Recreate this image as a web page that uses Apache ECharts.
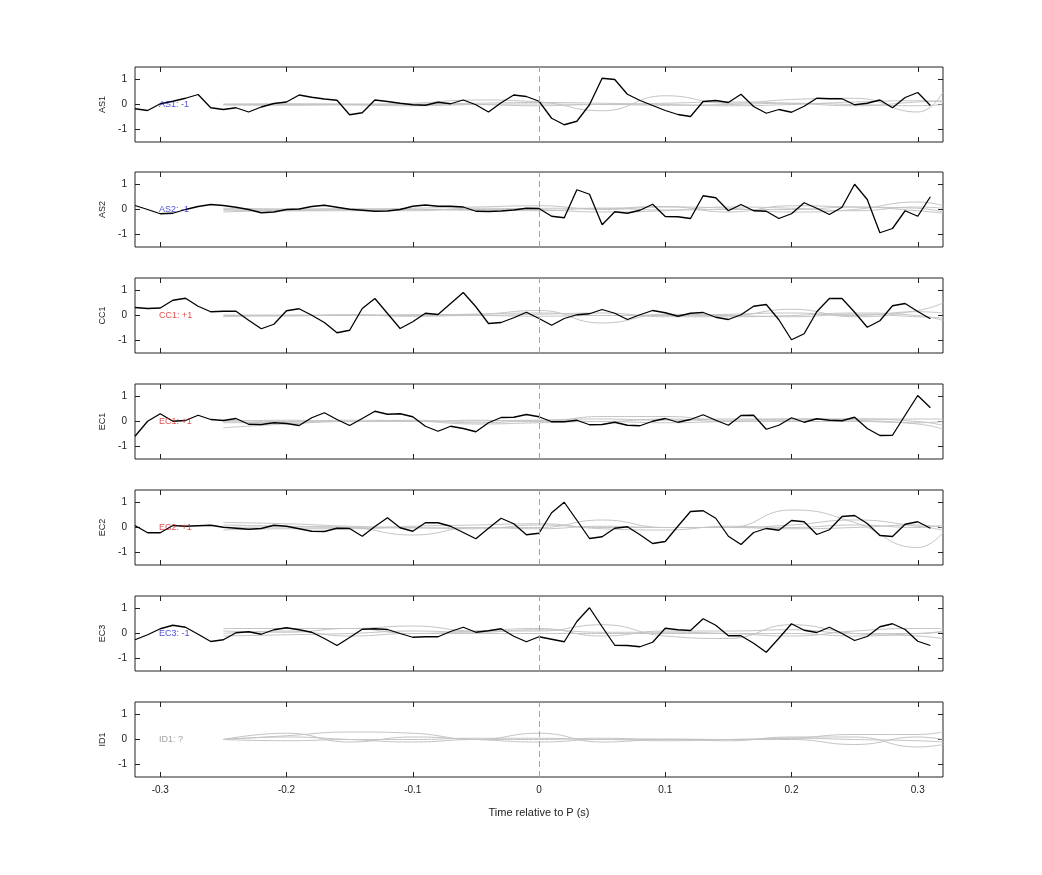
<!DOCTYPE html>
<html><head><meta charset="utf-8">
<script src="https://cdn.jsdelivr.net/npm/echarts@6/dist/echarts.min.js"></script>
<style>html,body{margin:0;padding:0;background:#fff}#c{width:1042px;height:875px}</style>
</head><body><div id="c"></div>
<script>
const channels = ["AS1","AS2","CC1","EC1","EC2","EC3","ID1"];
const tags = ["AS1: -1","AS2: -1","CC1: +1","EC1: +1","EC2: +1","EC3: -1","ID1: ?"];
const tagColors = ["#1a1acc","#1a1acc","#dd2222","#dd2222","#dd2222","#1a1acc","#888888"];
const xTicks = [-0.3,-0.2,-0.1,0,0.1,0.2,0.3];
const yTicks = [-1,0,1];
const tStart = -0.32, tStep = 0.01;
const grayX = [-0.25,-0.2,-0.15,-0.1,-0.05,0,0.05,0.1,0.15,0.2,0.25,0.3,0.32];

const AS1 = [-0.17,-0.24,0.03,0.13,0.25,0.4,-0.13,-0.2,-0.13,-0.3,-0.1,0.04,0.1,0.38,0.29,0.22,0.17,-0.41,-0.33,0.18,0.12,0.05,-0.01,-0.03,0.09,0.03,0.18,-0.01,-0.3,0.07,0.38,0.32,0.13,
 -0.55,-0.81,-0.67,-0.01,1.05,1.0,0.41,0.16,-0.04,-0.24,-0.4,-0.48,0.12,0.16,0.08,0.41,-0.08,-0.35,-0.2,-0.31,-0.07,0.25,0.23,0.23,-0.01,0.05,0.18,-0.13,0.28,0.48,-0.04];
const AS2 = [0.16,0,-0.17,-0.15,0,0.12,0.2,0.16,0.09,0,-0.13,-0.1,0,0.02,0.12,0.17,0.09,0.01,-0.03,-0.07,-0.06,0,0.13,0.18,0.13,0.13,0.1,-0.07,-0.08,-0.06,-0.02,0.05,0.04,
 -0.27,-0.33,0.79,0.61,-0.61,-0.09,-0.15,-0.03,0.21,-0.28,-0.29,-0.36,0.55,0.47,-0.05,0.2,-0.05,-0.07,-0.36,-0.17,0.27,0.05,-0.2,0.09,1.01,0.4,-0.93,-0.76,-0.05,-0.27,0.51];
const CC1 = [0.32,0.28,0.3,0.61,0.69,0.37,0.15,0.17,0.17,-0.19,-0.53,-0.35,0.19,0.27,0.01,-0.28,-0.69,-0.59,0.28,0.68,0.08,-0.52,-0.25,0.09,0.04,0.48,0.92,0.35,-0.32,-0.28,-0.09,0.13,-0.12,
 -0.39,-0.12,0.03,0.07,0.24,0.09,-0.16,0.03,0.2,0.11,-0.03,0.09,0.12,-0.07,-0.16,0.03,0.37,0.44,-0.17,-0.97,-0.73,0.15,0.68,0.68,0.13,-0.47,-0.21,0.39,0.48,0.16,-0.13];
const EC1 = [-0.59,0.01,0.31,0.01,0.04,0.25,0.08,0.04,0.12,-0.11,-0.12,-0.05,-0.08,-0.16,0.15,0.35,0.08,-0.16,0.12,0.41,0.29,0.31,0.19,-0.19,-0.39,-0.19,-0.28,-0.41,-0.05,0.16,0.17,0.28,0.19,
 -0.01,-0.01,0.05,-0.13,-0.12,-0.03,-0.15,-0.17,0.01,0.12,-0.03,0.08,0.27,0.05,-0.15,0.24,0.25,-0.31,-0.15,0.15,-0.03,0.11,0.05,0.03,0.17,-0.28,-0.56,-0.55,0.25,1.04,0.55];
const EC2 = [0.08,-0.21,-0.21,0.08,0.05,0.07,0.09,0.01,-0.03,-0.07,-0.04,0.09,0.05,-0.05,-0.15,-0.16,-0.03,-0.04,-0.35,0.04,0.39,-0.01,-0.15,0.19,0.19,0.05,-0.2,-0.45,-0.03,0.37,0.15,-0.29,-0.23,
 0.59,1.01,0.29,-0.44,-0.37,-0.03,0.03,-0.29,-0.64,-0.56,0.05,0.64,0.67,0.37,-0.35,-0.68,-0.2,-0.04,-0.11,0.28,0.23,-0.28,-0.09,0.44,0.48,0.16,-0.32,-0.36,0.13,0.23,-0.03];
const EC3 = [-0.25,-0.05,0.19,0.33,0.25,-0.03,-0.32,-0.25,0.03,0.07,-0.03,0.15,0.23,0.15,0.05,-0.2,-0.48,-0.16,0.17,0.19,0.16,0,-0.15,-0.13,-0.13,0.08,0.25,0.05,0.11,0.19,-0.11,-0.33,-0.13,
 -0.23,-0.33,0.48,1.03,0.27,-0.47,-0.48,-0.53,-0.35,0.21,0.15,0.12,0.59,0.33,-0.09,-0.09,-0.39,-0.75,-0.19,0.39,0.13,0.04,0.25,0,-0.28,-0.12,0.27,0.39,0.16,-0.31,-0.48];
const ID1 = null;
const blackData = [AS1,AS2,CC1,EC1,EC2,EC3,ID1];

const grayAS1 = [[0,0,0,0.05,0.18,0.1,-0.25,0.35,0.05,0.2,0.25,-0.3,0.5],[0,0.03,0.02,0,0.05,0.08,0.05,0,-0.05,0,0.1,0.15,0.1],[0.02,0,-0.02,-0.05,0,0.02,0,0.05,0.1,0.05,-0.05,0.1,0.15],[-0.02,-0.03,0,0.02,0,-0.05,0,-0.03,0,0.05,0,-0.05,0]];
const grayAS2 = [[0,-0.05,0,0.05,0.1,0.15,0,0.1,0.05,-0.1,0,0.3,0.15],[-0.1,-0.05,-0.05,0,-0.03,0.05,0.05,0.12,-0.1,0.15,0.1,0.05,-0.1],[0.05,0.02,0,-0.05,0.05,0,-0.1,-0.05,0.1,0.05,-0.05,0.1,0.05],[-0.03,0,0.03,0,0,-0.05,0.05,-0.02,0,0,0.1,-0.05,-0.15]];
const grayCC1 = [[0,0.02,0,0.03,0.05,0.2,-0.3,0.05,0,0.25,-0.05,0.2,0.5],[0,-0.02,0.03,0,0,0.05,0.1,-0.05,-0.05,0,0.1,0,-0.2],[-0.05,0,0,0.02,0.05,0.1,0,0.02,0,-0.05,0.05,-0.05,-0.1],[0.02,0,0.02,-0.03,0,-0.03,0,0,0.05,0.1,0,0.15,0.1]];
const grayEC1 = [[-0.25,-0.1,0,0,0.05,0,0.2,0.2,0.05,0.1,0.05,-0.1,-0.3],[0,0.05,0,0.05,-0.05,0.05,0.1,0.05,0.1,0.1,0.1,0,-0.15],[0.05,0,0.05,0.02,-0.1,-0.05,0,-0.05,0,0.05,0.1,0.1,0.1],[-0.05,-0.03,0,0,0.02,0.05,0,0.1,0,0,0,-0.05,0]];
const grayEC2 = [[0.2,0.15,0.05,0,-0.05,0.1,0,0,0,0.7,0.2,-0.8,-0.2],[0.1,0.05,0,-0.3,0,0,0.3,0,0,0.1,0.3,0.05,-0.1],[-0.1,-0.05,-0.05,0.05,0.1,0.15,-0.05,-0.1,0.05,0,0.1,0,0.1],[0,0.02,0,-0.02,0,-0.05,0.05,0,0,-0.05,0,0.1,0]];
const grayEC3 = [[0.2,0.2,0.2,0.3,0.1,0.1,0.35,-0.1,-0.2,0.35,0,-0.1,-0.2],[0.1,0.05,0.2,0,0.1,0.2,-0.1,0.1,0.1,0.15,0,0,0.1],[0,0.1,-0.1,0,0,0,0,0,0,0,-0.1,0,0.05],[-0.1,-0.05,0,0.1,0.05,0.15,0.05,0.05,0,-0.1,0.1,0.2,0.2]];
const grayID1 = [[0,0.15,0.3,0.25,0,0.25,-0.1,0,-0.05,0.1,0.1,-0.3,-0.2],[0,0.25,-0.1,0.1,0,-0.1,0,-0.05,0,0.05,0.2,0.2,0.3],[0,0.1,0,-0.1,0,0,0.05,0,0,0,-0.2,0.1,0],[0,-0.05,0,0,0.05,0.05,0,0.02,0,0.05,0,-0.05,-0.1]];
const grayData = [grayAS1,grayAS2,grayCC1,grayEC1,grayEC2,grayEC3,grayID1];

const tops = [67,172,278,384,490,596,702];
const H = 75;
const font = 'Liberation Sans, Arial, sans-serif';
const grid=[], xAxis=[], yAxis=[], series=[];
const tickStyle = {show:true, inside:true, length:5, lineStyle:{color:'#222'}};
const noLine = {show:false, onZero:false};
channels.forEach((ch,i)=>{
  grid.push({left:135, width:808, top:tops[i], height:H, show:true, borderColor:'#222', borderWidth:1, containLabel:false});
  const last = i===channels.length-1;
  xAxis.push({type:'value', gridIndex:i, min:-0.32, max:0.32, position:'bottom',
    axisLine:noLine, splitLine:{show:false},
    axisTick:Object.assign({customValues:xTicks},tickStyle),
    axisLabel:{show:last, customValues:xTicks, color:'#222', fontSize:10, fontFamily:font, margin:8, formatter:v=>String(+v.toFixed(2))},
    name:last?'Time relative to P (s)':'', nameLocation:'middle', nameGap:30, nameTextStyle:{color:'#222',fontSize:11,fontFamily:font}});
  xAxis.push({type:'value', gridIndex:i, min:-0.32, max:0.32, position:'top',
    axisLine:noLine, splitLine:{show:false}, axisTick:Object.assign({customValues:xTicks},tickStyle), axisLabel:{show:false}});
  yAxis.push({type:'value', gridIndex:i, min:-1.5, max:1.5, position:'left',
    axisLine:noLine, splitLine:{show:false},
    axisTick:Object.assign({customValues:yTicks},tickStyle),
    axisLabel:{customValues:yTicks, color:'#222', fontSize:10, fontFamily:font, margin:8},
    name:ch, nameLocation:'middle', nameGap:28, nameRotate:90, nameTextStyle:{color:'#222',fontSize:9,fontFamily:font}});
  yAxis.push({type:'value', gridIndex:i, min:-1.5, max:1.5, position:'right',
    axisLine:noLine, splitLine:{show:false}, axisTick:Object.assign({customValues:yTicks},tickStyle), axisLabel:{show:false}});
  grayData[i].forEach(g=>{
    series.push({type:'line', xAxisIndex:2*i, yAxisIndex:2*i, data:g.map((v,k)=>[grayX[k],v]), smooth:0.5,
      symbol:'none', silent:true, lineStyle:{color:'#c4c4c4', width:1}, z:2});
  });
  const b = blackData[i];
  series.push({type:'line', xAxisIndex:2*i, yAxisIndex:2*i, data:b?b.map((v,k)=>[tStart+k*tStep,v]):[], symbol:'none',
    lineStyle:{color:'#000', width:1.3}, z:4,
    markLine:{silent:true, symbol:'none', label:{show:false}, lineStyle:{color:'#e08a8a', type:[6,4], width:1}, data:[{xAxis:0}]}});
  series.push({type:'scatter', xAxisIndex:2*i, yAxisIndex:2*i, data:[[-0.301,0]], symbolSize:0, z:5,
    label:{show:true, position:'right', distance:0, formatter:tags[i], color:tagColors[i], fontSize:9, fontFamily:font}});
});
const chart = echarts.init(document.getElementById('c'));
chart.setOption({animation:false, backgroundColor:'#fff', grid, xAxis, yAxis, series});
</script></body></html>
